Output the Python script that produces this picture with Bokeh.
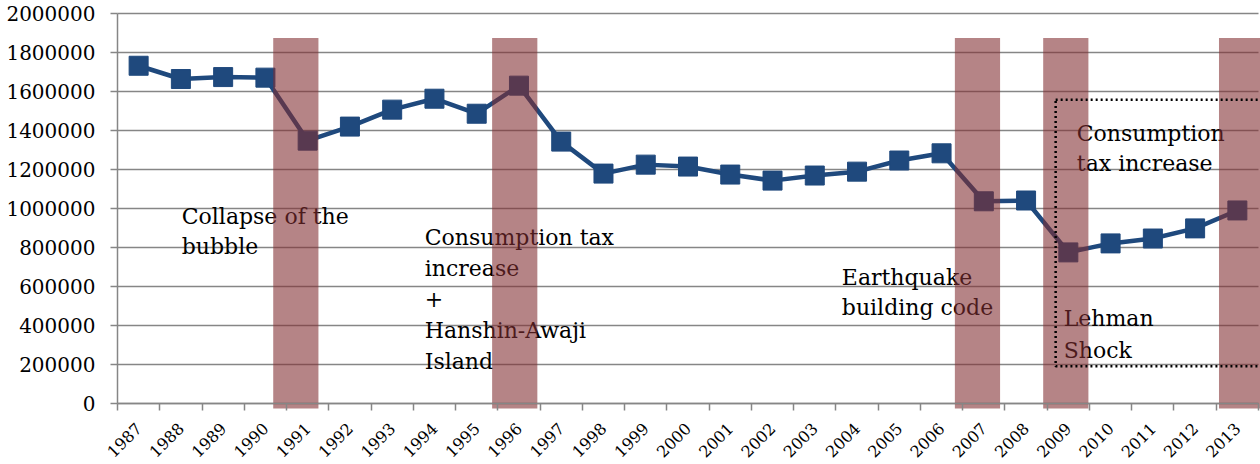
import math
from bokeh.plotting import figure
from bokeh.models import FixedTicker, BasicTickFormatter, Range1d, ColumnDataSource
from bokeh.core.properties import value
from bokeh.embed import file_html
from bokeh.resources import INLINE

# ---- data ----
years = list(range(1987, 2014))
units = [1732000, 1664000, 1674000, 1671000, 1348000, 1420000, 1507000, 1563000, 1486000,
         1630000, 1343000, 1179000, 1225000, 1215000, 1174000, 1143000, 1169000, 1189000,
         1246000, 1283000, 1037000, 1041000, 775000, 821000, 846000, 898000, 990000]

event_years = [1991, 1996, 2007, 2009, 2013]
band_centers = [1990.72, 1995.90, 2006.85, 2008.94, 2013.10]
band_top = 1875000
band_bottom = -25000

y_ticks = list(range(0, 2000001, 200000))

ann_text = ["Collapse of the", "bubble",
            "Consumption tax", "increase", "+", "Hanshin-Awaji", "Island",
            "Earthquake", "building code",
            "Lehman", "Shock",
            "Consumption", "tax increase"]
ann_x = [1988.02, 1988.02,
         1993.77, 1993.77, 1993.77, 1993.77, 1993.77,
         2003.64, 2003.64,
         2008.89, 2008.89,
         2009.20, 2009.20]
ann_y = [959000, 805000,
         851000, 693000, 534000, 375000, 217000,
         647000, 493000,
         437000, 273000,
         1384000, 1230000]

FONT = "DejaVu Serif"
GRAY = "#868686"
W, H = 1260, 464
LEFT, RIGHT, TOP = 117, 2, 13      # where the value/category axes sit on the canvas
AXIS_Y = 403                         # pixel row of the zero line
X0, X1 = 1986.5, 2013.5
Y_MAX = 2000000
px_per_year = (W - LEFT - RIGHT) / (X1 - X0)
units_per_px = Y_MAX / (AXIS_Y - TOP)

# one frame over the whole canvas, axes fixed inside it (so nothing is clipped)
p = figure(width=W, height=H, output_backend="svg", toolbar_location=None,
           x_range=Range1d(X0 - LEFT / px_per_year, X1 + RIGHT / px_per_year),
           y_range=Range1d(-(H - AXIS_Y) * units_per_px, Y_MAX + TOP * units_per_px),
           min_border_left=0, min_border_right=0, min_border_top=0, min_border_bottom=0)
p.outline_line_color = None
p.background_fill_color = "white"
p.border_fill_color = "white"
p.xgrid.grid_line_color = None
p.ygrid.grid_line_color = None

# horizontal gridlines at the value ticks, spanning the plot area
p.segment(x0=[X0] * len(y_ticks), x1=[X1] * len(y_ticks), y0=y_ticks, y1=y_ticks,
          line_color=GRAY, line_width=1.5)

# annotations
p.text(x=ann_x, y=ann_y, text=ann_text, text_font=value(FONT), text_font_size="22px",
       text_color="black", text_baseline="alphabetic", text_align="left")

# series
src = ColumnDataSource(dict(x=years, y=units))
p.line("x", "y", source=src, line_color="#1F497D", line_width=4.5)
p.scatter("x", "y", source=src, marker="square", size=19, fill_color="#1F497D",
          line_color="#1F497D")

# event bands
p.vbar(x=band_centers, top=[band_top] * len(band_centers), bottom=band_bottom, width=1.07,
       fill_color="#822E32", fill_alpha=0.59, line_color=None)

# dotted box
p.quad(left=[2008.70], right=[2014.5], top=[1558000], bottom=[191000],
       fill_color=None, line_color="black", line_width=2.5, line_dash="2 3")

# category axis at zero: labels at centres, tick marks at boundaries
p.xaxis.fixed_location = 0
p.xaxis.bounds = (X0, X1)
p.xaxis.ticker = FixedTicker(ticks=years,
                             minor_ticks=[y - 0.5 for y in years] + [years[-1] + 0.5])
p.xaxis.major_label_orientation = math.pi / 4
p.xaxis.major_tick_out = 0
p.xaxis.major_tick_in = 0
p.xaxis.minor_tick_out = 7
p.xaxis.minor_tick_in = 0
p.xaxis.major_label_standoff = 15
p.xaxis.major_label_text_font_size = "16px"

# value axis at the left edge of the plot area
p.yaxis.fixed_location = X0
p.yaxis.bounds = (0, Y_MAX)
p.yaxis.ticker = FixedTicker(ticks=y_ticks)
p.yaxis.formatter = BasicTickFormatter(use_scientific=False)
p.yaxis.major_tick_out = 7
p.yaxis.major_tick_in = 0
p.yaxis.major_label_standoff = 15
p.yaxis.major_label_text_font_size = "20px"

for ax in (p.xaxis, p.yaxis):
    ax.axis_line_color = GRAY
    ax.axis_line_width = 1.5
    ax.major_tick_line_color = GRAY
    ax.major_tick_line_width = 1.5
    ax.minor_tick_line_color = GRAY
    ax.minor_tick_line_width = 1.5
    ax.major_label_text_font = FONT
    ax.major_label_text_color = "black"
p.yaxis.minor_tick_line_color = None

open("out.html", "w").write(file_html(p, INLINE))
